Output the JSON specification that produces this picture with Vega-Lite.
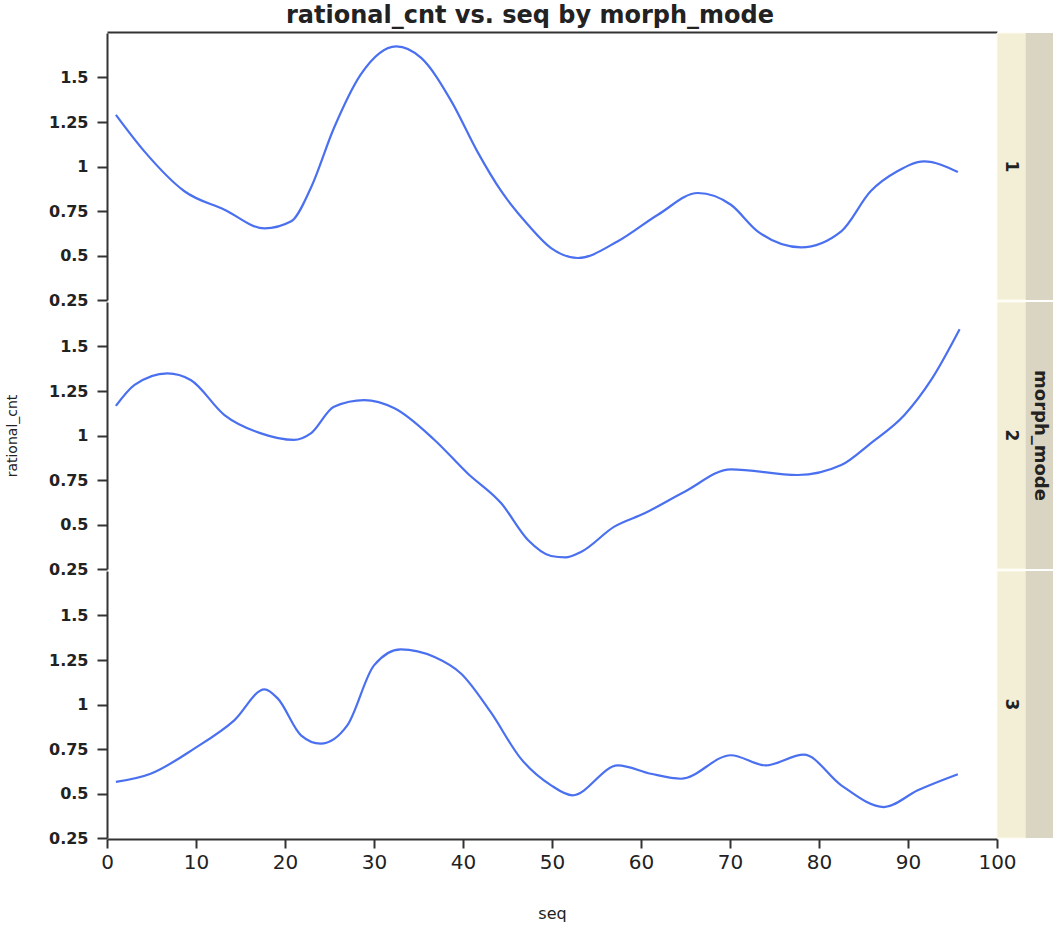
{
  "$schema": "https://vega.github.io/schema/vega-lite/v6.json",
  "background": "white",
  "padding": {"left": 6, "top": 4, "right": 0, "bottom": 5},
  "title": {"text": "rational_cnt vs. seq by morph_mode", "font": "DejaVu Sans", "fontSize": 24, "fontWeight": "bold", "color": "#222222", "anchor": "middle", "frame": "bounds", "offset": 4},
  "data": {"values": [
      {"morph_mode": 1, "seq": 1, "rational_cnt": 1.29},
      {"morph_mode": 1, "seq": 4.2, "rational_cnt": 1.085},
      {"morph_mode": 1, "seq": 8.7, "rational_cnt": 0.861},
      {"morph_mode": 1, "seq": 13.2, "rational_cnt": 0.757},
      {"morph_mode": 1, "seq": 17.7, "rational_cnt": 0.652},
      {"morph_mode": 1, "seq": 20.7, "rational_cnt": 0.692},
      {"morph_mode": 1, "seq": 22.9, "rational_cnt": 0.879},
      {"morph_mode": 1, "seq": 25.5, "rational_cnt": 1.216},
      {"morph_mode": 1, "seq": 28.5, "rational_cnt": 1.516},
      {"morph_mode": 1, "seq": 32.5, "rational_cnt": 1.675},
      {"morph_mode": 1, "seq": 35.3, "rational_cnt": 1.61},
      {"morph_mode": 1, "seq": 38.7, "rational_cnt": 1.366},
      {"morph_mode": 1, "seq": 41.6, "rational_cnt": 1.085},
      {"morph_mode": 1, "seq": 44.3, "rational_cnt": 0.861},
      {"morph_mode": 1, "seq": 47.3, "rational_cnt": 0.673},
      {"morph_mode": 1, "seq": 49.9, "rational_cnt": 0.542},
      {"morph_mode": 1, "seq": 52.9, "rational_cnt": 0.486},
      {"morph_mode": 1, "seq": 57.4, "rational_cnt": 0.58},
      {"morph_mode": 1, "seq": 61.9, "rational_cnt": 0.729},
      {"morph_mode": 1, "seq": 66.4, "rational_cnt": 0.851},
      {"morph_mode": 1, "seq": 70.1, "rational_cnt": 0.785},
      {"morph_mode": 1, "seq": 73.1, "rational_cnt": 0.636},
      {"morph_mode": 1, "seq": 78, "rational_cnt": 0.546},
      {"morph_mode": 1, "seq": 82.5, "rational_cnt": 0.636},
      {"morph_mode": 1, "seq": 85.8, "rational_cnt": 0.861},
      {"morph_mode": 1, "seq": 88.8, "rational_cnt": 0.973},
      {"morph_mode": 1, "seq": 91.8, "rational_cnt": 1.029},
      {"morph_mode": 1, "seq": 95.6, "rational_cnt": 0.969},
      {"morph_mode": 2, "seq": 1, "rational_cnt": 1.166},
      {"morph_mode": 2, "seq": 3.1, "rational_cnt": 1.284},
      {"morph_mode": 2, "seq": 6.8, "rational_cnt": 1.349},
      {"morph_mode": 2, "seq": 9.4, "rational_cnt": 1.312},
      {"morph_mode": 2, "seq": 13.2, "rational_cnt": 1.115},
      {"morph_mode": 2, "seq": 17.3, "rational_cnt": 1.012},
      {"morph_mode": 2, "seq": 21, "rational_cnt": 0.975},
      {"morph_mode": 2, "seq": 22.9, "rational_cnt": 1.012},
      {"morph_mode": 2, "seq": 25.5, "rational_cnt": 1.162},
      {"morph_mode": 2, "seq": 28.9, "rational_cnt": 1.199},
      {"morph_mode": 2, "seq": 32.3, "rational_cnt": 1.153},
      {"morph_mode": 2, "seq": 36.8, "rational_cnt": 0.975},
      {"morph_mode": 2, "seq": 40.5, "rational_cnt": 0.788},
      {"morph_mode": 2, "seq": 44.3, "rational_cnt": 0.619},
      {"morph_mode": 2, "seq": 47.3, "rational_cnt": 0.413},
      {"morph_mode": 2, "seq": 49.9, "rational_cnt": 0.323},
      {"morph_mode": 2, "seq": 51.5, "rational_cnt": 0.315},
      {"morph_mode": 2, "seq": 53.3, "rational_cnt": 0.347},
      {"morph_mode": 2, "seq": 57, "rational_cnt": 0.488},
      {"morph_mode": 2, "seq": 60.4, "rational_cnt": 0.563},
      {"morph_mode": 2, "seq": 64.9, "rational_cnt": 0.684},
      {"morph_mode": 2, "seq": 70.1, "rational_cnt": 0.81},
      {"morph_mode": 2, "seq": 77.6, "rational_cnt": 0.778},
      {"morph_mode": 2, "seq": 82.5, "rational_cnt": 0.834},
      {"morph_mode": 2, "seq": 85.8, "rational_cnt": 0.956},
      {"morph_mode": 2, "seq": 89.6, "rational_cnt": 1.115},
      {"morph_mode": 2, "seq": 92.6, "rational_cnt": 1.312},
      {"morph_mode": 2, "seq": 95.8, "rational_cnt": 1.597},
      {"morph_mode": 3, "seq": 1, "rational_cnt": 0.565},
      {"morph_mode": 3, "seq": 4.9, "rational_cnt": 0.611},
      {"morph_mode": 3, "seq": 9.8, "rational_cnt": 0.752},
      {"morph_mode": 3, "seq": 14.3, "rational_cnt": 0.911},
      {"morph_mode": 3, "seq": 17.7, "rational_cnt": 1.085},
      {"morph_mode": 3, "seq": 19.2, "rational_cnt": 1.033},
      {"morph_mode": 3, "seq": 21.8, "rational_cnt": 0.827},
      {"morph_mode": 3, "seq": 24, "rational_cnt": 0.78},
      {"morph_mode": 3, "seq": 27, "rational_cnt": 0.883},
      {"morph_mode": 3, "seq": 30, "rational_cnt": 1.22},
      {"morph_mode": 3, "seq": 33, "rational_cnt": 1.31},
      {"morph_mode": 3, "seq": 36.8, "rational_cnt": 1.267},
      {"morph_mode": 3, "seq": 39.8, "rational_cnt": 1.173},
      {"morph_mode": 3, "seq": 43.1, "rational_cnt": 0.958},
      {"morph_mode": 3, "seq": 46.5, "rational_cnt": 0.696},
      {"morph_mode": 3, "seq": 49.9, "rational_cnt": 0.546},
      {"morph_mode": 3, "seq": 52.3, "rational_cnt": 0.49},
      {"morph_mode": 3, "seq": 57.4, "rational_cnt": 0.658},
      {"morph_mode": 3, "seq": 61.1, "rational_cnt": 0.611},
      {"morph_mode": 3, "seq": 64.5, "rational_cnt": 0.583},
      {"morph_mode": 3, "seq": 70.1, "rational_cnt": 0.715},
      {"morph_mode": 3, "seq": 74, "rational_cnt": 0.658},
      {"morph_mode": 3, "seq": 78.3, "rational_cnt": 0.718},
      {"morph_mode": 3, "seq": 82.5, "rational_cnt": 0.546},
      {"morph_mode": 3, "seq": 87.3, "rational_cnt": 0.424},
      {"morph_mode": 3, "seq": 91.1, "rational_cnt": 0.518},
      {"morph_mode": 3, "seq": 95.6, "rational_cnt": 0.608}
  ]},
  "spacing": 0,
  "facet": {"row": {"field": "morph_mode", "type": "ordinal", "header": {"labels": false, "title": "rational_cnt", "titleOrient": "left", "titleAngle": -90, "titleFont": "DejaVu Sans", "titleFontSize": 14, "titleFontWeight": "normal", "titleColor": "#222222", "titlePadding": 4}}},
  "spec": {
    "width": 947,
    "height": 267,
    "layer": [
      {
        "mark": {"type": "line", "interpolate": "monotone", "color": "#4a70f0", "strokeWidth": 2.2},
        "encoding": {
          "x": {"field": "seq", "type": "quantitative", "scale": {"domain": [0, 100], "range": [0, 890], "nice": false, "zero": false},
            "axis": {"orient": "bottom", "values": [0, 10, 20, 30, 40, 50, 60, 70, 80, 90, 100], "grid": false, "title": "seq",
              "labelFont": "DejaVu Sans", "labelFontSize": 20, "labelColor": "#222222", "labelPadding": 4,
              "tickSize": 9, "tickColor": "#333333", "tickWidth": 2, "domainColor": "#333333", "domainWidth": 2,
              "titleFont": "DejaVu Sans", "titleFontSize": 16, "titleFontWeight": "normal", "titleColor": "#222222", "titlePadding": 33,
              "labelFlush": false}},
          "y": {"field": "rational_cnt", "type": "quantitative", "scale": {"domain": [0.25, 1.75], "nice": false, "zero": false},
            "axis": {"orient": "left", "values": [0.25, 0.5, 0.75, 1, 1.25, 1.5], "format": ".3~g", "grid": false, "title": null,
              "labelFont": "DejaVu Sans", "labelFontSize": 16, "labelFontWeight": "bold", "labelColor": "#222222", "labelPadding": 9,
              "tickSize": 10, "tickColor": "#333333", "tickWidth": 2, "domainColor": "#333333", "domainWidth": 2, "labelFlush": false}}
        }
      },
      {
        "transform": [{"aggregate": [{"op": "count", "as": "n"}], "groupby": ["morph_mode"]}],
        "mark": {"type": "rect", "color": "#f3efd6", "stroke": "#fdfbf1", "strokeWidth": 1},
        "encoding": {
          "x": {"datum": 100, "type": "quantitative", "axis": null},
          "x2": {"datum": 103.2},
          "y": {"datum": 0.25, "type": "quantitative",
            "axis": {"orient": "left", "values": [0.25, 0.5, 0.75, 1, 1.25, 1.5], "format": ".3~g", "grid": false, "title": null,
              "labelFont": "DejaVu Sans", "labelFontSize": 16, "labelFontWeight": "bold", "labelColor": "#222222", "labelPadding": 9,
              "tickSize": 10, "tickColor": "#333333", "tickWidth": 2, "domainColor": "#333333", "domainWidth": 2, "labelFlush": false}},
          "y2": {"datum": 1.75}
        }
      },
      {
        "transform": [{"aggregate": [{"op": "count", "as": "n"}], "groupby": ["morph_mode"]}],
        "mark": {"type": "rect", "color": "#d9d5c2"},
        "encoding": {
          "x": {"datum": 103.2, "type": "quantitative",
            "axis": {"orient": "top", "labels": false, "ticks": false, "title": null, "grid": false, "domainColor": "#333333", "domainWidth": 2}},
          "x2": {"datum": 106.4},
          "y": {"datum": 0.25, "type": "quantitative",
            "axis": {"orient": "left", "values": [0.25, 0.5, 0.75, 1, 1.25, 1.5], "format": ".3~g", "grid": false, "title": null,
              "labelFont": "DejaVu Sans", "labelFontSize": 16, "labelFontWeight": "bold", "labelColor": "#222222", "labelPadding": 9,
              "tickSize": 10, "tickColor": "#333333", "tickWidth": 2, "domainColor": "#333333", "domainWidth": 2, "labelFlush": false}},
          "y2": {"datum": 1.75}
        }
      },
      {
        "transform": [{"aggregate": [{"op": "count", "as": "n"}], "groupby": ["morph_mode"]}],
        "mark": {"type": "text", "angle": 90, "font": "DejaVu Sans", "fontSize": 17, "fontWeight": "bold", "color": "#222222"},
        "encoding": {
          "x": {"datum": 101.6, "type": "quantitative", "axis": null},
          "y": {"datum": 1.0, "type": "quantitative",
            "axis": {"orient": "left", "values": [0.25, 0.5, 0.75, 1, 1.25, 1.5], "format": ".3~g", "grid": false, "title": null,
              "labelFont": "DejaVu Sans", "labelFontSize": 16, "labelFontWeight": "bold", "labelColor": "#222222", "labelPadding": 9,
              "tickSize": 10, "tickColor": "#333333", "tickWidth": 2, "domainColor": "#333333", "domainWidth": 2, "labelFlush": false}},
          "text": {"field": "morph_mode"}
        }
      },
      {
        "transform": [{"aggregate": [{"op": "count", "as": "n"}], "groupby": ["morph_mode"]}, {"filter": "datum.morph_mode == 2"}],
        "mark": {"type": "text", "angle": 90, "font": "DejaVu Sans", "fontSize": 18, "fontWeight": "bold", "color": "#222222"},
        "encoding": {
          "x": {"datum": 104.8, "type": "quantitative", "axis": null},
          "y": {"datum": 1.0, "type": "quantitative",
            "axis": {"orient": "left", "values": [0.25, 0.5, 0.75, 1, 1.25, 1.5], "format": ".3~g", "grid": false, "title": null,
              "labelFont": "DejaVu Sans", "labelFontSize": 16, "labelFontWeight": "bold", "labelColor": "#222222", "labelPadding": 9,
              "tickSize": 10, "tickColor": "#333333", "tickWidth": 2, "domainColor": "#333333", "domainWidth": 2, "labelFlush": false}},
          "text": {"value": "morph_mode"}
        }
      }
    ]
  },
  "config": {
    "view": {"stroke": null},
    "font": "DejaVu Sans"
  }
}
